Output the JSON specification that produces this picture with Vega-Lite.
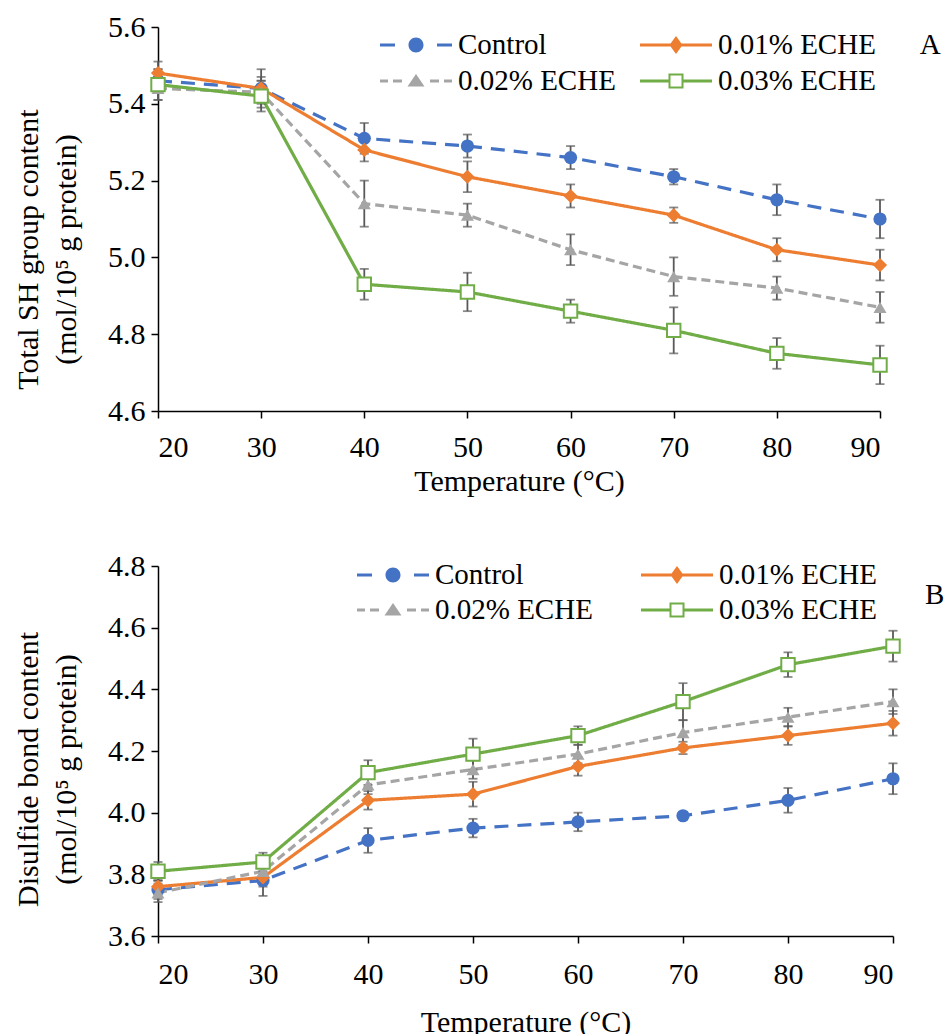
{
  "$schema": "https://vega.github.io/schema/vega-lite/v6.json",
  "background": "white",
  "padding": {"left": 13, "top": 12, "right": 0, "bottom": 0},
  "datasets": {
    "sh": [
      {"temperature": 20, "group": "Control", "value": 5.46, "sd": 0.03},
      {"temperature": 30, "group": "Control", "value": 5.44, "sd": 0.05},
      {"temperature": 40, "group": "Control", "value": 5.31, "sd": 0.04},
      {"temperature": 50, "group": "Control", "value": 5.29, "sd": 0.03},
      {"temperature": 60, "group": "Control", "value": 5.26, "sd": 0.03},
      {"temperature": 70, "group": "Control", "value": 5.21, "sd": 0.02},
      {"temperature": 80, "group": "Control", "value": 5.15, "sd": 0.04},
      {"temperature": 90, "group": "Control", "value": 5.10, "sd": 0.05},
      {"temperature": 20, "group": "0.01% ECHE", "value": 5.48, "sd": 0.03},
      {"temperature": 30, "group": "0.01% ECHE", "value": 5.44, "sd": 0.03},
      {"temperature": 40, "group": "0.01% ECHE", "value": 5.28, "sd": 0.03},
      {"temperature": 50, "group": "0.01% ECHE", "value": 5.21, "sd": 0.04},
      {"temperature": 60, "group": "0.01% ECHE", "value": 5.16, "sd": 0.03},
      {"temperature": 70, "group": "0.01% ECHE", "value": 5.11, "sd": 0.02},
      {"temperature": 80, "group": "0.01% ECHE", "value": 5.02, "sd": 0.03},
      {"temperature": 90, "group": "0.01% ECHE", "value": 4.98, "sd": 0.04},
      {"temperature": 20, "group": "0.02% ECHE", "value": 5.44, "sd": 0.03},
      {"temperature": 30, "group": "0.02% ECHE", "value": 5.43, "sd": 0.03},
      {"temperature": 40, "group": "0.02% ECHE", "value": 5.14, "sd": 0.06},
      {"temperature": 50, "group": "0.02% ECHE", "value": 5.11, "sd": 0.03},
      {"temperature": 60, "group": "0.02% ECHE", "value": 5.02, "sd": 0.04},
      {"temperature": 70, "group": "0.02% ECHE", "value": 4.95, "sd": 0.05},
      {"temperature": 80, "group": "0.02% ECHE", "value": 4.92, "sd": 0.03},
      {"temperature": 90, "group": "0.02% ECHE", "value": 4.87, "sd": 0.04},
      {"temperature": 20, "group": "0.03% ECHE", "value": 5.45, "sd": 0.04},
      {"temperature": 30, "group": "0.03% ECHE", "value": 5.42, "sd": 0.04},
      {"temperature": 40, "group": "0.03% ECHE", "value": 4.93, "sd": 0.04},
      {"temperature": 50, "group": "0.03% ECHE", "value": 4.91, "sd": 0.05},
      {"temperature": 60, "group": "0.03% ECHE", "value": 4.86, "sd": 0.03},
      {"temperature": 70, "group": "0.03% ECHE", "value": 4.81, "sd": 0.06},
      {"temperature": 80, "group": "0.03% ECHE", "value": 4.75, "sd": 0.04},
      {"temperature": 90, "group": "0.03% ECHE", "value": 4.72, "sd": 0.05}
    ],
    "ss": [
      {"temperature": 20, "group": "Control", "value": 3.75, "sd": 0.03},
      {"temperature": 30, "group": "Control", "value": 3.78, "sd": 0.05},
      {"temperature": 40, "group": "Control", "value": 3.91, "sd": 0.04},
      {"temperature": 50, "group": "Control", "value": 3.95, "sd": 0.03},
      {"temperature": 60, "group": "Control", "value": 3.97, "sd": 0.03},
      {"temperature": 70, "group": "Control", "value": 3.99, "sd": 0.01},
      {"temperature": 80, "group": "Control", "value": 4.04, "sd": 0.04},
      {"temperature": 90, "group": "Control", "value": 4.11, "sd": 0.05},
      {"temperature": 20, "group": "0.01% ECHE", "value": 3.76, "sd": 0.02},
      {"temperature": 30, "group": "0.01% ECHE", "value": 3.79, "sd": 0.03},
      {"temperature": 40, "group": "0.01% ECHE", "value": 4.04, "sd": 0.03},
      {"temperature": 50, "group": "0.01% ECHE", "value": 4.06, "sd": 0.04},
      {"temperature": 60, "group": "0.01% ECHE", "value": 4.15, "sd": 0.03},
      {"temperature": 70, "group": "0.01% ECHE", "value": 4.21, "sd": 0.02},
      {"temperature": 80, "group": "0.01% ECHE", "value": 4.25, "sd": 0.03},
      {"temperature": 90, "group": "0.01% ECHE", "value": 4.29, "sd": 0.04},
      {"temperature": 20, "group": "0.02% ECHE", "value": 3.74, "sd": 0.03},
      {"temperature": 30, "group": "0.02% ECHE", "value": 3.81, "sd": 0.03},
      {"temperature": 40, "group": "0.02% ECHE", "value": 4.09, "sd": 0.03},
      {"temperature": 50, "group": "0.02% ECHE", "value": 4.14, "sd": 0.03},
      {"temperature": 60, "group": "0.02% ECHE", "value": 4.19, "sd": 0.03},
      {"temperature": 70, "group": "0.02% ECHE", "value": 4.26, "sd": 0.04},
      {"temperature": 80, "group": "0.02% ECHE", "value": 4.31, "sd": 0.03},
      {"temperature": 90, "group": "0.02% ECHE", "value": 4.36, "sd": 0.04},
      {"temperature": 20, "group": "0.03% ECHE", "value": 3.81, "sd": 0.03},
      {"temperature": 30, "group": "0.03% ECHE", "value": 3.84, "sd": 0.03},
      {"temperature": 40, "group": "0.03% ECHE", "value": 4.13, "sd": 0.04},
      {"temperature": 50, "group": "0.03% ECHE", "value": 4.19, "sd": 0.05},
      {"temperature": 60, "group": "0.03% ECHE", "value": 4.25, "sd": 0.03},
      {"temperature": 70, "group": "0.03% ECHE", "value": 4.36, "sd": 0.06},
      {"temperature": 80, "group": "0.03% ECHE", "value": 4.48, "sd": 0.04},
      {"temperature": 90, "group": "0.03% ECHE", "value": 4.54, "sd": 0.05}
    ]
  },
  "config": {
    "view": {"stroke": null},
    "font": "Liberation Serif",
    "style": {
      "guide-label": {"font": "Liberation Serif", "fill": "black"},
      "guide-title": {"font": "Liberation Serif", "fill": "black"}
    },
    "axis": {
      "grid": false,
      "domainColor": "black",
      "domainWidth": 1.5,
      "tickColor": "black",
      "tickWidth": 1.5,
      "tickSize": 7,
      "labelColor": "black",
      "labelFont": "Liberation Serif",
      "labelFontSize": 30,
      "titleColor": "black",
      "titleFont": "Liberation Serif",
      "titleFontSize": 30,
      "titleFontWeight": "normal",
      "titleLineHeight": 38
    },
    "legend": {"labelFont": "Liberation Serif"},
    "title": {"font": "Liberation Serif", "fontSize": 29, "fontWeight": "normal", "color": "black"}
  },
  "spacing": 55,
  "resolve": {
    "scale": {"color": "independent", "shape": "independent", "strokeDash": "independent", "stroke": "independent"},
    "legend": {"color": "independent", "shape": "independent", "strokeDash": "independent", "stroke": "independent"}
  },
  "vconcat": [
    {
      "width": 722,
      "height": 384,
      "data": {"name": "sh"},
      "title": {"text": "A", "orient": "right", "anchor": "start", "angle": 0, "align": "left", "baseline": "top", "frame": "group", "offset": 8, "dy": 4},
      "encoding": {
        "x": {"field": "temperature", "type": "quantitative", "scale": {"domain": [20, 90], "nice": false, "zero": false},
              "axis": {"values": [20, 30, 40, 50, 60, 70, 80, 90], "title": "Temperature (°C)", "labelFont": "Liberation Serif", "labelPadding": 14, "titlePadding": 4}},
        "y": {"field": "value", "type": "quantitative", "scale": {"domain": [4.6, 5.6], "nice": false, "zero": false},
              "axis": {"values": [4.6, 4.8, 5.0, 5.2, 5.4, 5.6], "format": ".1f", "labelFont": "Liberation Serif", "labelPadding": 6, "title": ["Total SH group content", "(mol/10⁵ g protein)"], "titlePadding": 26, "titleY": 222}}
      },
      "layer": [
        {
          "mark": {"type": "point", "filled": true, "size": 0, "opacity": 1},
          "encoding": {
            "color": {"field": "group", "type": "nominal",
              "scale": {"domain": ["Control", "0.01% ECHE", "0.02% ECHE", "0.03% ECHE"], "range": ["#4472C4", "#ED7D31", "#A5A5A5", "#70AD47"]},
              "legend": {
                "orient": "none", "legendX": 222, "legendY": 0, "direction": "horizontal", "columns": 2, "columnPadding": 24, "rowPadding": 3,
                "title": null, "symbolSize": 1296, "symbolStrokeWidth": 0, "symbolOpacity": 1,
                "labelFont": "Liberation Serif", "labelFontSize": 29, "labelColor": "black", "labelOffset": 42, "labelLimit": 0}},
            "shape": {"field": "group", "type": "nominal",
              "scale": {"domain": ["Control", "0.01% ECHE", "0.02% ECHE", "0.03% ECHE"],
                "range": [
                  "M-1,-0.083H-0.167V0.083H-1Z M2.167,-0.083H3V0.083H2.167Z M0.583,0A0.417,0.417 0 1,0 1.417,0A0.417,0.417 0 1,0 0.583,0Z",
                  "M-1,-0.083H3V0.083H-1Z M1,-0.5L1.361,0L1,0.5L0.639,0Z",
                  "M-1,-0.083H-0.556V0.083H-1Z M-0.278,-0.083H0.222V0.083H-0.278Z M1.778,-0.083H2.278V0.083H1.778Z M2.556,-0.083H3V0.083H2.556Z M1,-0.39L1.472,0.3L0.528,0.3Z",
                  "M-1,-0.083H0.583V0.083H-1Z M1.417,-0.083H3V0.083H1.417Z M0.583,-0.417H1.417V0.417H0.583Z M0.694,-0.306V0.306H1.306V-0.306Z"
                ]},
              "legend": {"orient": "none", "legendX": 222, "legendY": 0, "direction": "horizontal", "columns": 2, "title": null}}
          }
        },
        {
          "mark": {"type": "line", "strokeWidth": 3.2},
          "encoding": {
            "stroke": {"field": "group", "type": "nominal",
              "scale": {"domain": ["0.03% ECHE", "0.02% ECHE", "0.01% ECHE", "Control"], "range": ["#70AD47", "#A5A5A5", "#ED7D31", "#4472C4"]},
              "legend": null},
            "strokeDash": {"field": "group", "type": "nominal",
              "scale": {"domain": ["0.03% ECHE", "0.02% ECHE", "0.01% ECHE", "Control"], "range": [[1, 0], [9, 5], [1, 0], [14, 9]]},
              "legend": null}
          }
        },
        {
          "mark": {"type": "errorbar", "color": "#595959", "thickness": 1.8, "ticks": {"size": 9, "color": "#595959", "thickness": 1.8}},
          "encoding": {
            "yError": {"field": "sd"},
            "detail": {"field": "group", "type": "nominal"}
          }
        },
        {
          "transform": [{"filter": "datum.group === 'Control'"}],
          "mark": {"type": "point", "shape": "circle", "filled": true, "color": "#4472C4", "size": 175, "opacity": 1}
        },
        {
          "transform": [{"filter": "datum.group === '0.01% ECHE'"}],
          "mark": {"type": "point", "shape": "diamond", "filled": true, "color": "#ED7D31", "size": 200, "opacity": 1}
        },
        {
          "transform": [{"filter": "datum.group === '0.02% ECHE'"}],
          "mark": {"type": "point", "shape": "triangle-up", "filled": true, "color": "#A5A5A5", "size": 170, "opacity": 1}
        },
        {
          "transform": [{"filter": "datum.group === '0.03% ECHE'"}],
          "mark": {"type": "point", "shape": "square", "filled": false, "fill": "white", "stroke": "#70AD47", "strokeWidth": 2, "size": 180, "opacity": 1}
        }
      ]
    },
    {
      "width": 735,
      "height": 370,
      "data": {"name": "ss"},
      "title": {"text": "B", "orient": "right", "anchor": "start", "angle": 0, "align": "left", "baseline": "top", "frame": "group", "offset": 2, "dy": 15},
      "encoding": {
        "x": {"field": "temperature", "type": "quantitative", "scale": {"domain": [20, 90], "nice": false, "zero": false},
              "axis": {"values": [20, 30, 40, 50, 60, 70, 80, 90], "title": "Temperature (°C)", "labelFont": "Liberation Serif", "labelPadding": 16, "titlePadding": 18}},
        "y": {"field": "value", "type": "quantitative", "scale": {"domain": [3.6, 4.8], "nice": false, "zero": false},
              "axis": {"values": [3.6, 3.8, 4.0, 4.2, 4.4, 4.6, 4.8], "format": ".1f", "labelFont": "Liberation Serif", "labelPadding": 6, "title": ["Disulfide bond content", "(mol/10⁵ g protein)"], "titlePadding": 26, "titleY": 203}}
      },
      "layer": [
        {
          "mark": {"type": "point", "filled": true, "size": 0, "opacity": 1},
          "encoding": {
            "color": {"field": "group", "type": "nominal",
              "scale": {"domain": ["Control", "0.01% ECHE", "0.02% ECHE", "0.03% ECHE"], "range": ["#4472C4", "#ED7D31", "#A5A5A5", "#70AD47"]},
              "legend": {
                "orient": "none", "legendX": 199, "legendY": -9, "direction": "horizontal", "columns": 2, "columnPadding": 48, "rowPadding": 2,
                "title": null, "symbolSize": 1296, "symbolStrokeWidth": 0, "symbolOpacity": 1,
                "labelFont": "Liberation Serif", "labelFontSize": 29, "labelColor": "black", "labelOffset": 42, "labelLimit": 0}},
            "shape": {"field": "group", "type": "nominal",
              "scale": {"domain": ["Control", "0.01% ECHE", "0.02% ECHE", "0.03% ECHE"],
                "range": [
                  "M-1,-0.083H-0.167V0.083H-1Z M2.167,-0.083H3V0.083H2.167Z M0.583,0A0.417,0.417 0 1,0 1.417,0A0.417,0.417 0 1,0 0.583,0Z",
                  "M-1,-0.083H3V0.083H-1Z M1,-0.5L1.361,0L1,0.5L0.639,0Z",
                  "M-1,-0.083H-0.556V0.083H-1Z M-0.278,-0.083H0.222V0.083H-0.278Z M1.778,-0.083H2.278V0.083H1.778Z M2.556,-0.083H3V0.083H2.556Z M1,-0.39L1.472,0.3L0.528,0.3Z",
                  "M-1,-0.083H0.583V0.083H-1Z M1.417,-0.083H3V0.083H1.417Z M0.583,-0.417H1.417V0.417H0.583Z M0.694,-0.306V0.306H1.306V-0.306Z"
                ]},
              "legend": {"orient": "none", "legendX": 199, "legendY": -9, "direction": "horizontal", "columns": 2, "title": null}}
          }
        },
        {
          "mark": {"type": "line", "strokeWidth": 3.2},
          "encoding": {
            "stroke": {"field": "group", "type": "nominal",
              "scale": {"domain": ["0.03% ECHE", "0.02% ECHE", "0.01% ECHE", "Control"], "range": ["#70AD47", "#A5A5A5", "#ED7D31", "#4472C4"]},
              "legend": null},
            "strokeDash": {"field": "group", "type": "nominal",
              "scale": {"domain": ["0.03% ECHE", "0.02% ECHE", "0.01% ECHE", "Control"], "range": [[1, 0], [9, 5], [1, 0], [14, 9]]},
              "legend": null}
          }
        },
        {
          "mark": {"type": "errorbar", "color": "#595959", "thickness": 1.8, "ticks": {"size": 9, "color": "#595959", "thickness": 1.8}},
          "encoding": {
            "yError": {"field": "sd"},
            "detail": {"field": "group", "type": "nominal"}
          }
        },
        {
          "transform": [{"filter": "datum.group === 'Control'"}],
          "mark": {"type": "point", "shape": "circle", "filled": true, "color": "#4472C4", "size": 175, "opacity": 1}
        },
        {
          "transform": [{"filter": "datum.group === '0.01% ECHE'"}],
          "mark": {"type": "point", "shape": "diamond", "filled": true, "color": "#ED7D31", "size": 200, "opacity": 1}
        },
        {
          "transform": [{"filter": "datum.group === '0.02% ECHE'"}],
          "mark": {"type": "point", "shape": "triangle-up", "filled": true, "color": "#A5A5A5", "size": 170, "opacity": 1}
        },
        {
          "transform": [{"filter": "datum.group === '0.03% ECHE'"}],
          "mark": {"type": "point", "shape": "square", "filled": false, "fill": "white", "stroke": "#70AD47", "strokeWidth": 2, "size": 180, "opacity": 1}
        }
      ]
    }
  ]
}
